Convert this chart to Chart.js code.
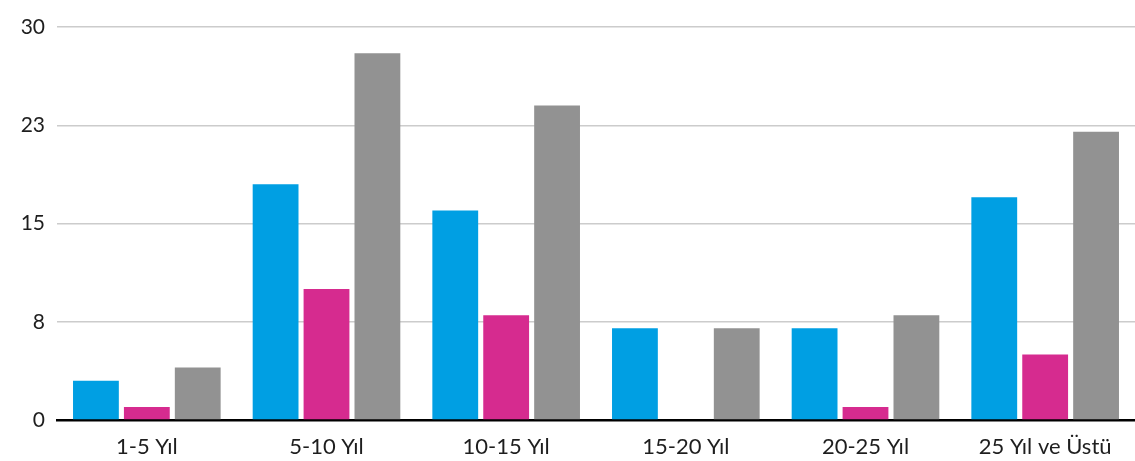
<!DOCTYPE html>
<html>
<head>
<meta charset="utf-8">
<script src="https://cdn.jsdelivr.net/npm/chart.js@4/dist/chart.umd.min.js"></script>
<style>
  html, body { margin: 0; padding: 0; background: #fff; }
  #wrap { width: 1135px; height: 461px; }
</style>
</head>
<body>
<div id="wrap"><canvas id="chart1"></canvas></div>
<script>
const categories = ['1-5 Yıl', '5-10 Yıl', '10-15 Yıl', '15-20 Yıl', '20-25 Yıl', '25 Yıl ve Üstü'];
const seriesBlue = [3, 18, 16, 7, 7, 17];
const seriesPink = [1, 10, 8, 0, 1, 5];
const seriesGray = [4, 28, 24, 7, 8, 22];
const yTicks = [0, 7.5, 15, 22.5, 30];

const ctx = document.getElementById('chart1').getContext('2d');
const chart = new Chart(ctx, {
  type: 'bar',
  data: {
    labels: categories,
    datasets: [
      { label: 'Seri 1', data: seriesBlue, backgroundColor: '#009FE3' },
      { label: 'Seri 2', data: seriesPink, backgroundColor: '#D62B8F' },
      { label: 'Seri 3', data: seriesGray, backgroundColor: '#929292' }
    ]
  },
  options: {
    responsive: true,
    maintainAspectRatio: false,
    animation: false,
    datasets: { bar: { categoryPercentage: 0.85, barPercentage: 0.9 } },
    layout: { padding: { top: 27, right: 0, left: 0, bottom: 0 } },
    plugins: { legend: { display: false }, tooltip: { enabled: false } },
    scales: {
      x: {
        afterFit: s => { s.height = 41; },
        grid: { display: false, tickLength: 3 },
        border: { display: true, color: '#000', width: 2.5 },
        ticks: { color: '#1e1e1e', font: { family: 'Lato', size: 22, lineHeight: 1 }, padding: 13 }
      },
      y: {
        min: 0,
        max: 30,
        afterBuildTicks: s => { s.ticks = yTicks.map(v => ({ value: v })); },
        afterFit: s => { s.width = 57; },
        grid: { color: '#cccccc', lineWidth: 1.5, drawTicks: false },
        border: { display: false },
        ticks: {
          color: '#1e1e1e',
          font: { family: 'Lato', size: 21 },
          padding: 12,
          callback: v => Math.round(v)
        }
      }
    }
  }
});
</script>
</body>
</html>
